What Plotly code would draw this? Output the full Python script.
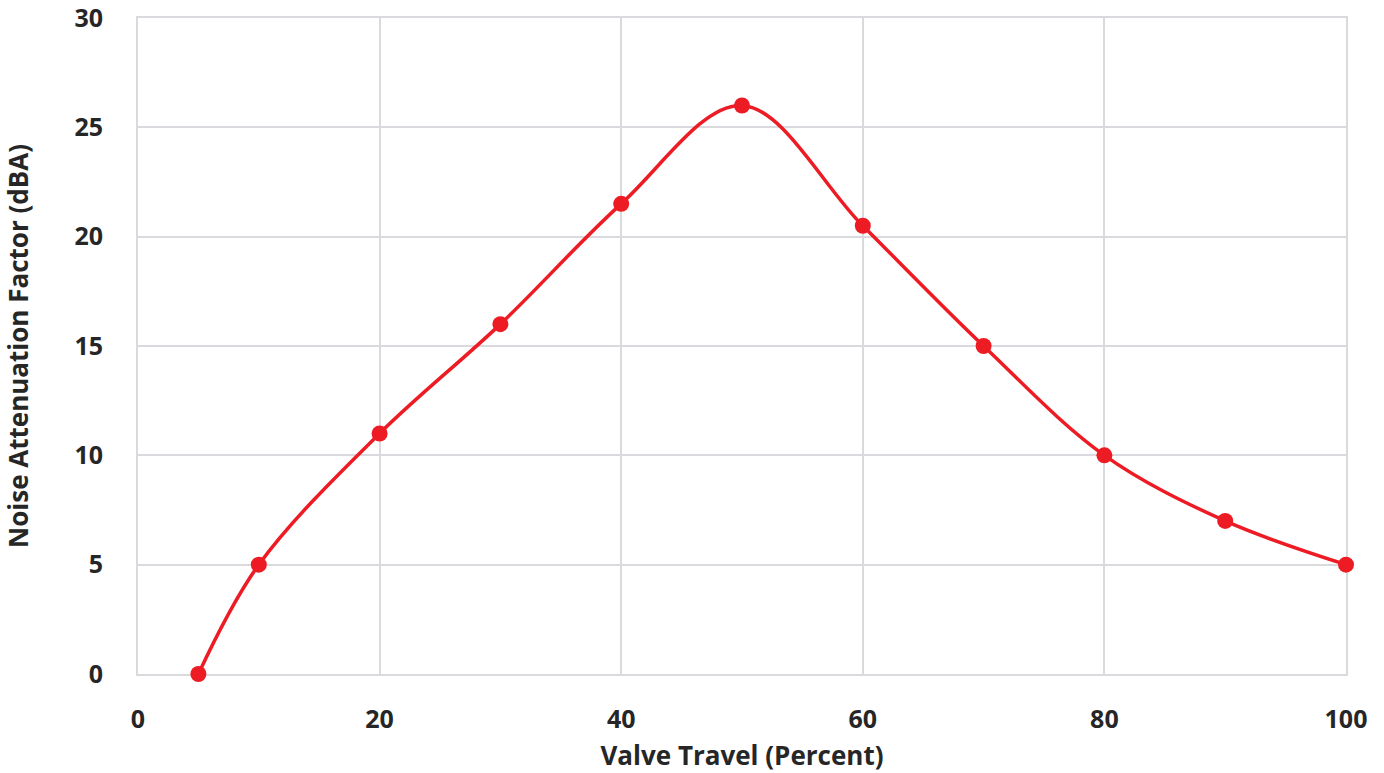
import plotly.graph_objects as go

valve_travel = [5, 10, 20, 30, 40, 50, 60, 70, 80, 90, 100]
attenuation = [0, 5, 11, 16, 21.5, 26, 20.5, 15, 10, 7, 5]

x_ticks = [0, 20, 40, 60, 80, 100]
y_ticks = [0, 5, 10, 15, 20, 25, 30]

red = "#ED1C24"
grid = "#D9D9DE"
font_family = "Open Sans"

fig = go.Figure()
fig.add_trace(go.Scatter(
    x=valve_travel, y=attenuation, mode="lines+markers",
    line=dict(color=red, width=3.5, shape="spline", smoothing=1.0),
    marker=dict(color=red, size=16, line=dict(width=0)),
    cliponaxis=False,
    showlegend=False,
))

fig.update_layout(
    width=1384, height=773,
    margin=dict(l=138, r=38, t=18, b=99),
    paper_bgcolor="white", plot_bgcolor="white",
    font=dict(family=font_family, color="#262626"),
    xaxis=dict(
        range=[0, 100], tickvals=x_ticks, showgrid=True, gridcolor=grid, gridwidth=2,
        zeroline=False, showline=True, linecolor=grid, linewidth=2, mirror=True,
        automargin=False, ticklabeloverflow="allow", layer="below traces",
        ticks="", ticklabelstandoff=22, tickfont=dict(size=25, family=font_family, weight="bold"),
        title=dict(text="<b>Valve Travel (Percent)</b>", font=dict(size=26, family=font_family), standoff=14),
    ),
    yaxis=dict(
        range=[0, 30], tickvals=y_ticks, showgrid=True, gridcolor=grid, gridwidth=2,
        zeroline=False, showline=True, linecolor=grid, linewidth=2, mirror=True,
        automargin=False, ticklabeloverflow="allow", layer="below traces",
        ticks="", ticklabelstandoff=28, tickfont=dict(size=25, family=font_family, weight="bold"),
        title=dict(text="<b>Noise Attenuation Factor (dBA)</b>", font=dict(size=26, family=font_family), standoff=45),
    ),
)

fig.write_html("out.html", config={"displayModeBar": False},
               post_script="document.body.style.margin='0';document.body.style.overflow='hidden';")
